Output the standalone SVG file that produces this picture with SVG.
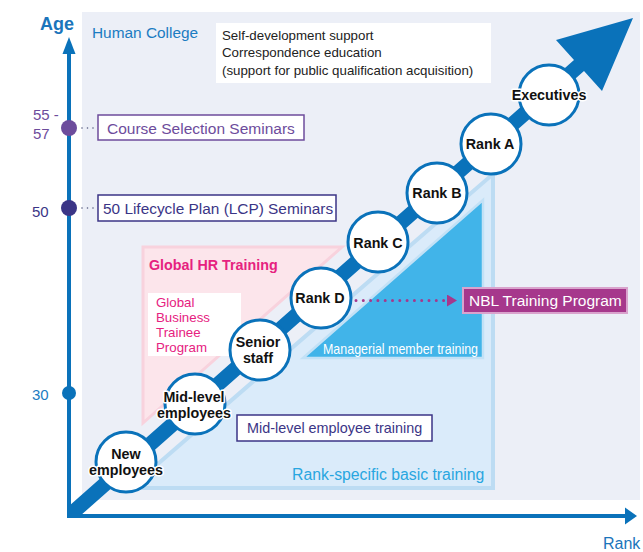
<svg xmlns="http://www.w3.org/2000/svg" width="643" height="552" viewBox="0 0 643 552">
<defs>
<style>
text{font-family:"Liberation Sans",Arial,sans-serif}
.node circle{fill:#fff;stroke:#0A72BA;stroke-width:3}
.nt{font-size:14.3px;font-weight:bold;fill:#111;text-anchor:middle;stroke:#fff;stroke-width:3;paint-order:stroke;stroke-linejoin:round}
.age{font-size:15px}
.dotc{fill:none;stroke:#555a80;stroke-width:1.6;stroke-dasharray:0 5.5;stroke-linecap:round}
</style>
<marker id="nblArrow" markerWidth="10" markerHeight="12" refX="10" refY="6" orient="auto" markerUnits="userSpaceOnUse">
<path d="M0,0 L10,6 L0,12 Z" fill="#A6388C"/>
</marker>
</defs>

<!-- background panel -->
<rect x="82" y="12" width="558" height="488" fill="#ECEFF7"/>

<!-- regions -->
<g id="global-hr-region">
<polygon points="143,247 342,247 143,423" fill="#FCE5EB" stroke="#F8D2DD" stroke-width="3"/>
<text x="149" y="270" font-size="14.3" font-weight="bold" fill="#E6217F">Global HR Training</text>
</g>
<g id="rank-specific-region">
<polygon points="130,488 493,174 493,488" fill="#DAEBFA" stroke="#BDDCF3" stroke-width="4"/>
<text x="292" y="480" font-size="15.8" fill="#29A6E0">Rank-specific basic training</text>
</g>
<g id="managerial-region">
<polygon points="303,358 483,200 483,358" fill="#41B4E9" stroke="#C2E1F6" stroke-width="2.5"/>
<text x="323" y="354" font-size="14.5" fill="#fff" textLength="155" lengthAdjust="spacingAndGlyphs">Managerial member training</text>
</g>

<!-- axes -->
<g id="axes">
<line x1="69" y1="50" x2="69" y2="518" stroke="#0A72BA" stroke-width="4"/>
<polygon points="69,37 62.5,54 75.5,54" fill="#0A72BA"/>
<line x1="67" y1="516" x2="627" y2="516" stroke="#0A72BA" stroke-width="4"/>
<polygon points="637,516 625,507.5 625,524.5" fill="#0A72BA"/>
<text x="40" y="30" font-size="18" font-weight="bold" fill="#1B75BB">Age</text>
<text x="603" y="549" font-size="16" fill="#1B75BB">Rank</text>
<circle cx="69" cy="128" r="8" fill="#6D4C9C"/>
<circle cx="69" cy="208" r="8" fill="#3B3586"/>
<circle cx="69" cy="393" r="7" fill="#0A72BA"/>
<text class="age" x="33" y="120" fill="#6D4C9C">55 -</text>
<text class="age" x="33" y="139" fill="#6D4C9C">57</text>
<text class="age" x="32" y="217" fill="#3B3586">50</text>
<text class="age" x="32" y="400" fill="#1B7CC2">30</text>
</g>

<!-- top labels -->
<g id="human-college">
<text x="92" y="38" font-size="15.4" fill="#1B7CC2">Human College</text>
</g>
<g id="self-development">
<rect x="216" y="23" width="275" height="60" fill="#fff"/>
<text font-size="13.3" fill="#222">
<tspan x="222" y="40">Self-development support</tspan>
<tspan x="222" y="57">Correspondence education</tspan>
<tspan x="222" y="75"> (support for public qualification acquisition)</tspan>
</text>
</g>

<g id="course-selection">
<rect x="98" y="115" width="206" height="25" fill="#fff" stroke="#6D4C9C" stroke-width="1.5"/>
<text x="107" y="134" font-size="15.5" fill="#6D4C9C">Course Selection Seminars</text>
</g>
<g id="lcp-seminars">
<rect x="98" y="195" width="238" height="26" fill="#fff" stroke="#3B3586" stroke-width="1.5"/>
<text x="103" y="214" font-size="15.4" fill="#3B3586">50 Lifecycle Plan (LCP) Seminars</text>
</g>
<g id="global-business-trainee">
<rect x="148" y="293" width="93" height="63" fill="#fff"/>
<text font-size="13.3" fill="#E6217F">
<tspan x="156" y="307">Global</tspan>
<tspan x="156" y="322">Business</tspan>
<tspan x="156" y="337">Trainee</tspan>
<tspan x="156" y="352">Program</tspan>
</text>
</g>
<g id="mid-level-training">
<rect x="237" y="415" width="195" height="26" fill="#fff" stroke="#3B3586" stroke-width="1.5"/>
<text x="247" y="433" font-size="14.4" fill="#3B3586">Mid-level employee training</text>
</g>
<g id="nbl-program">
<rect x="463" y="288" width="164" height="25" fill="#A6388C" stroke="#D9A3CD" stroke-width="2"/>
<text x="469" y="306" font-size="15.5" fill="#fff">NBL Training Program</text>
</g>

<!-- progression arrow -->
<g id="progression-arrow">
<polygon points="69,506 574,60 556,40 633,18 602,91 584,71 80,516 69,516" fill="#0A72BA"/>
</g>

<!-- connectors -->
<g id="connectors">
<line class="dotc" x1="82" y1="128" x2="96" y2="128"/>
<line class="dotc" x1="82" y1="208" x2="96" y2="208"/>
<line x1="356" y1="300.5" x2="457" y2="300.5" stroke="#A6388C" stroke-width="3" stroke-dasharray="0 7.3" stroke-linecap="round" marker-end="url(#nblArrow)"/>
</g>

<!-- rank nodes -->
<g id="node-new" class="node"><circle cx="126" cy="462" r="30"/><text class="nt"><tspan x="126" y="459">New</tspan><tspan x="126" y="475">employees</tspan></text></g>
<g id="node-mid" class="node"><circle cx="195" cy="404" r="30"/><text class="nt"><tspan x="194" y="402">Mid-level</tspan><tspan x="194" y="418">employees</tspan></text></g>
<g id="node-senior" class="node"><circle cx="260" cy="350" r="30"/><text class="nt"><tspan x="258" y="347">Senior</tspan><tspan x="258" y="363">staff</tspan></text></g>
<g id="node-rank-d" class="node"><circle cx="321" cy="298" r="30"/><text class="nt" x="320" y="303">Rank D</text></g>
<g id="node-rank-c" class="node"><circle cx="378" cy="242" r="30"/><text class="nt" x="378" y="248">Rank C</text></g>
<g id="node-rank-b" class="node"><circle cx="437" cy="193" r="30"/><text class="nt" x="437" y="198">Rank B</text></g>
<g id="node-rank-a" class="node"><circle cx="491" cy="144" r="30"/><text class="nt" x="490" y="149">Rank A</text></g>
<g id="node-executives" class="node"><circle cx="549" cy="95" r="30"/><text class="nt" x="549" y="100">Executives</text></g>
</svg>
